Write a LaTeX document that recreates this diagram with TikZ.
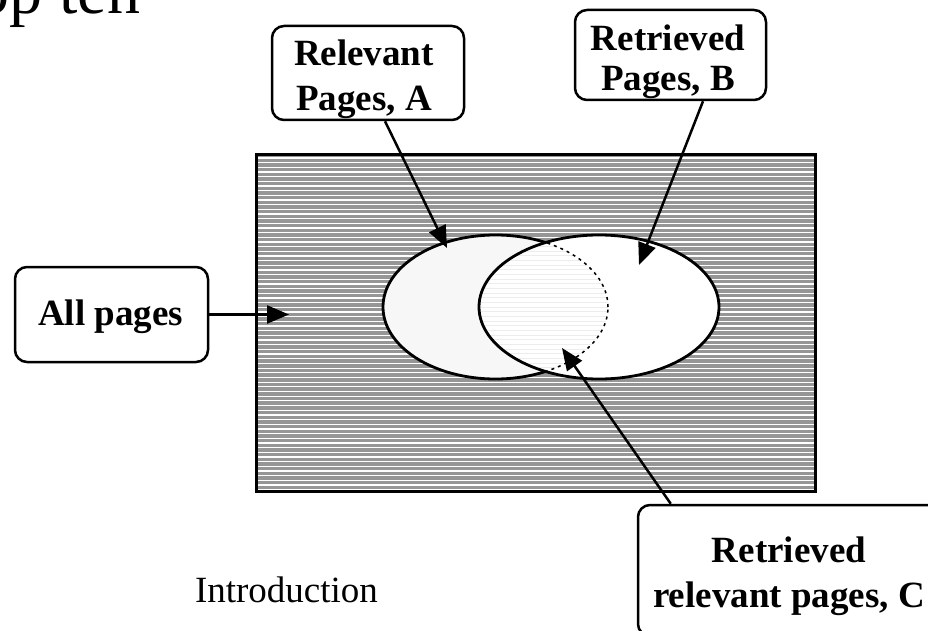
\documentclass[tikz,border=0pt]{standalone}
\usepackage{fontspec}
\setmainfont{Liberation Serif}
\usetikzlibrary{arrows.meta}
\definecolor{hatchgray}{HTML}{969696}
\definecolor{setA}{HTML}{F7F7F7}
\definecolor{faint}{HTML}{EDEDED}
\tikzset{
  box/.style={draw, line width=2.5pt, rounded corners=12pt, inner sep=0pt},
  lbl/.style={font=\bfseries\fontsize{37}{45}\selectfont, align=center, inner sep=0pt},
  arr/.style={line width=2.5pt, -{Triangle[length=22pt,width=18pt]}},
  ring/.style={line width=2.8pt},
}
\begin{document}
\begin{tikzpicture}[x=1pt, y=-1pt]
  % page frame
  \clip (0,0) rectangle (928,631);
  \useasboundingbox (0,0) rectangle (928,631);

  % title, running off the top left corner
  \node[anchor=base west, inner sep=0pt, font=\fontsize{66}{72}\selectfont] (title) at (-59,14) {Top ten};

  % universe of all pages: grey field with white rulings
  \coordinate (rNW) at (256,155);
  \coordinate (rSE) at (815,491);
  \fill[hatchgray] (rNW) rectangle (rSE);
  \begin{scope}
    \clip (rNW) rectangle (rSE);
    \foreach \k in {0,...,72}
      \draw[white, line width=1.3pt] (256,{158+4.67*\k}) -- (815,{158+4.67*\k});
  \end{scope}
  \draw[line width=3pt] (rNW) rectangle (rSE);

  % the two sets
  \coordinate (cA) at (495.5,307);
  \coordinate (cB) at (599,307);
  \path[fill=setA, draw, ring] (cA) ellipse [x radius=112.5pt, y radius=72pt];
  \path[fill=white] (cB) ellipse [x radius=120pt, y radius=72pt];

  % intersection C: faint rulings
  \begin{scope}
    \clip (cA) ellipse [x radius=112.5pt, y radius=72pt];
    \clip (cB) ellipse [x radius=120pt, y radius=72pt];
    \foreach \k in {0,...,34}
      \draw[faint, line width=1pt] (380,{237+4.67*\k}) -- (720,{237+4.67*\k});
  \end{scope}

  % hidden edge of A inside B
  \begin{scope}
    \clip (cB) ellipse [x radius=120pt, y radius=72pt];
    \draw[line width=1.5pt, dash pattern=on 3pt off 4pt] (cA) ellipse [x radius=112.5pt, y radius=72pt];
  \end{scope}
  \draw[ring] (cB) ellipse [x radius=120pt, y radius=72pt];

  % callout boxes
  \node[box, minimum width=192pt, minimum height=94pt] (Abox) at (368,73) {};
  \node[lbl] (Atext) at (364,78.8) {Relevant\\Pages, A};

  \node[box, minimum width=191pt, minimum height=90pt] (Bbox) at (670.5,55) {};
  \node[lbl, font=\bfseries\fontsize{37}{40}\selectfont] (Btext) at (668,61.3) {Retrieved\\Pages, B};

  \node[box, minimum width=193pt, minimum height=95pt] (Allbox) at (111.5,314.5) {};
  \node[lbl, anchor=base] (Alltext) at (110.5,325) {All pages};

  \node[box, minimum width=302pt, minimum height=131pt] (Cbox) at (789,570.5) {};
  \node[lbl] (Ctext) at (789,575.8) {Retrieved\\relevant pages, C};

  % arrow targets
  \coordinate (tipA) at (447,248);
  \coordinate (tipB) at (639,265);
  \coordinate (tipAll) at (289,314.5);
  \coordinate (tipC) at (562,348);

  \draw[arr] ([xshift=17pt]Abox.south) -- (tipA);
  \draw[arr] ([xshift=32.5pt]Bbox.south) -- (tipB);
  \draw[arr] (Allbox.east) -- (tipAll);
  \draw[arr] ([xshift=34pt]Cbox.north west) -- (tipC);

  % footer
  \node[anchor=base, inner sep=0pt, font=\fontsize{37}{45}\selectfont] (intro) at (286.5,602) {Introduction};
\end{tikzpicture}
\end{document}
